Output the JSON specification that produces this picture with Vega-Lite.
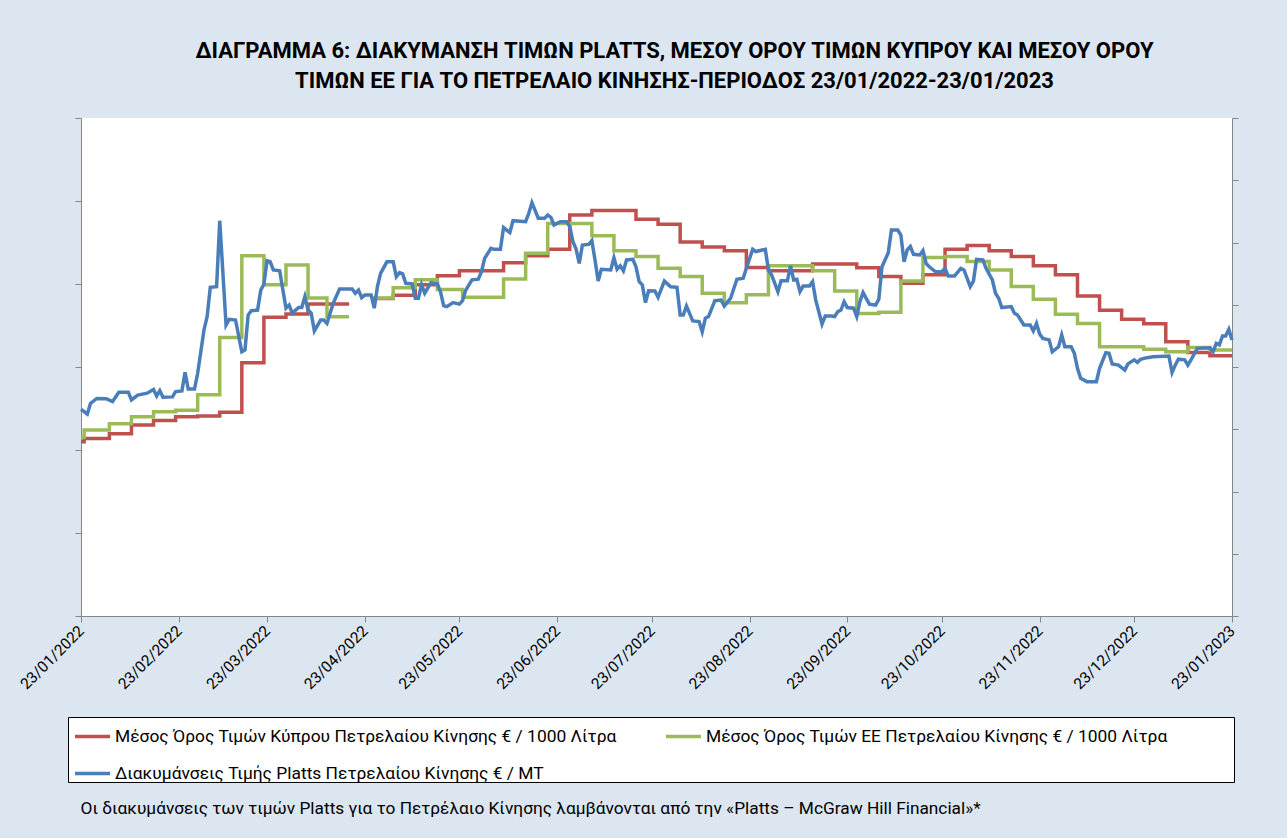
{
  "$schema": "https://vega.github.io/schema/vega-lite/v6.json",
  "width": 1151,
  "height": 498,
  "autosize": {"type": "none"},
  "padding": {"left": 81, "top": 118, "right": 55, "bottom": 222},
  "background": "#DCE6F1",
  "config": {
    "view": {"fill": "white", "stroke": null},
    "font": "Roboto"
  },
  "title": {
    "text": ["ΔΙΑΓΡΑΜΜΑ 6: ΔΙΑΚΥΜΑΝΣΗ ΤΙΜΩΝ PLATTS, ΜΕΣΟΥ ΟΡΟΥ ΤΙΜΩΝ ΚΥΠΡΟΥ ΚΑΙ ΜΕΣΟΥ ΟΡΟΥ", "ΤΙΜΩΝ ΕΕ ΓΙΑ ΤΟ ΠΕΤΡΕΛΑΙΟ ΚΙΝΗΣΗΣ-ΠΕΡΙΟΔΟΣ 23/01/2022-23/01/2023"],
    "font": "Roboto",
    "fontSize": 22,
    "fontWeight": "bold",
    "color": "black",
    "anchor": "middle",
    "dx": 18,
    "offset": 25,
    "lineHeight": 30
  },
  "data": {"values": [
    {"d":"2022-01-23","s":"PL","v":664},{"d":"2022-01-25","s":"PL","v":649},{"d":"2022-01-26","s":"PL","v":683},{"d":"2022-01-28","s":"PL","v":699},{"d":"2022-01-31","s":"PL","v":698},
    {"d":"2022-02-02","s":"PL","v":689},{"d":"2022-02-04","s":"PL","v":719},{"d":"2022-02-07","s":"PL","v":719},{"d":"2022-02-08","s":"PL","v":694},{"d":"2022-02-10","s":"PL","v":710},
    {"d":"2022-02-13","s":"PL","v":716},{"d":"2022-02-15","s":"PL","v":728},{"d":"2022-02-16","s":"PL","v":707},{"d":"2022-02-17","s":"PL","v":724},{"d":"2022-02-18","s":"PL","v":703},
    {"d":"2022-02-21","s":"PL","v":704},{"d":"2022-02-22","s":"PL","v":721},{"d":"2022-02-24","s":"PL","v":723},{"d":"2022-02-25","s":"PL","v":783},{"d":"2022-02-26","s":"PL","v":729},
    {"d":"2022-02-28","s":"PL","v":729},{"d":"2022-03-01","s":"PL","v":780},{"d":"2022-03-03","s":"PL","v":919},{"d":"2022-03-04","s":"PL","v":962},{"d":"2022-03-05","s":"PL","v":1056},
    {"d":"2022-03-07","s":"PL","v":1058},{"d":"2022-03-08","s":"PL","v":1270},{"d":"2022-03-10","s":"PL","v":935},{"d":"2022-03-11","s":"PL","v":953},{"d":"2022-03-13","s":"PL","v":951},
    {"d":"2022-03-15","s":"PL","v":849},{"d":"2022-03-16","s":"PL","v":855},{"d":"2022-03-17","s":"PL","v":967},{"d":"2022-03-18","s":"PL","v":981},{"d":"2022-03-20","s":"PL","v":983},
    {"d":"2022-03-21","s":"PL","v":1047},{"d":"2022-03-22","s":"PL","v":1066},{"d":"2022-03-23","s":"PL","v":1141},{"d":"2022-03-24","s":"PL","v":1138},{"d":"2022-03-25","s":"PL","v":1112},
    {"d":"2022-03-27","s":"PL","v":1109},{"d":"2022-03-29","s":"PL","v":989},{"d":"2022-03-30","s":"PL","v":999},{"d":"2022-03-31","s":"PL","v":973},{"d":"2022-04-02","s":"PL","v":991},
    {"d":"2022-04-03","s":"PL","v":991},{"d":"2022-04-04","s":"PL","v":1026},{"d":"2022-04-05","s":"PL","v":983},{"d":"2022-04-06","s":"PL","v":973},{"d":"2022-04-07","s":"PL","v":916},
    {"d":"2022-04-09","s":"PL","v":951},{"d":"2022-04-10","s":"PL","v":951},{"d":"2022-04-11","s":"PL","v":940},{"d":"2022-04-13","s":"PL","v":1005},{"d":"2022-04-15","s":"PL","v":1051},
    {"d":"2022-04-19","s":"PL","v":1051},{"d":"2022-04-20","s":"PL","v":1037},{"d":"2022-04-21","s":"PL","v":1047},{"d":"2022-04-22","s":"PL","v":1023},{"d":"2022-04-23","s":"PL","v":1031},
    {"d":"2022-04-25","s":"PL","v":1031},{"d":"2022-04-26","s":"PL","v":989},{"d":"2022-04-27","s":"PL","v":1058},{"d":"2022-04-28","s":"PL","v":1101},{"d":"2022-04-30","s":"PL","v":1138},
    {"d":"2022-05-02","s":"PL","v":1138},{"d":"2022-05-03","s":"PL","v":1090},{"d":"2022-05-04","s":"PL","v":1103},{"d":"2022-05-05","s":"PL","v":1099},{"d":"2022-05-06","s":"PL","v":1069},
    {"d":"2022-05-08","s":"PL","v":1067},{"d":"2022-05-09","s":"PL","v":1021},{"d":"2022-05-10","s":"PL","v":1021},{"d":"2022-05-11","s":"PL","v":1064},{"d":"2022-05-12","s":"PL","v":1037},
    {"d":"2022-05-14","s":"PL","v":1071},{"d":"2022-05-16","s":"PL","v":1067},{"d":"2022-05-17","s":"PL","v":1042},{"d":"2022-05-18","s":"PL","v":997},{"d":"2022-05-19","s":"PL","v":994},
    {"d":"2022-05-21","s":"PL","v":1007},{"d":"2022-05-23","s":"PL","v":1002},{"d":"2022-05-24","s":"PL","v":1013},{"d":"2022-05-25","s":"PL","v":1047},{"d":"2022-05-27","s":"PL","v":1080},
    {"d":"2022-05-29","s":"PL","v":1082},{"d":"2022-05-30","s":"PL","v":1106},{"d":"2022-05-31","s":"PL","v":1149},{"d":"2022-06-02","s":"PL","v":1181},{"d":"2022-06-03","s":"PL","v":1178},
    {"d":"2022-06-05","s":"PL","v":1178},{"d":"2022-06-06","s":"PL","v":1248},{"d":"2022-06-08","s":"PL","v":1232},{"d":"2022-06-09","s":"PL","v":1270},{"d":"2022-06-13","s":"PL","v":1267},
    {"d":"2022-06-14","s":"PL","v":1294},{"d":"2022-06-15","s":"PL","v":1328},{"d":"2022-06-17","s":"PL","v":1278},{"d":"2022-06-19","s":"PL","v":1278},{"d":"2022-06-20","s":"PL","v":1288},
    {"d":"2022-06-21","s":"PL","v":1281},{"d":"2022-06-22","s":"PL","v":1256},{"d":"2022-06-24","s":"PL","v":1267},{"d":"2022-06-26","s":"PL","v":1267},{"d":"2022-06-27","s":"PL","v":1251},
    {"d":"2022-06-28","s":"PL","v":1203},{"d":"2022-06-29","s":"PL","v":1179},{"d":"2022-06-30","s":"PL","v":1133},{"d":"2022-07-01","s":"PL","v":1192},{"d":"2022-07-03","s":"PL","v":1194},
    {"d":"2022-07-04","s":"PL","v":1206},{"d":"2022-07-05","s":"PL","v":1144},{"d":"2022-07-06","s":"PL","v":1076},{"d":"2022-07-07","s":"PL","v":1114},{"d":"2022-07-10","s":"PL","v":1112},
    {"d":"2022-07-11","s":"PL","v":1151},{"d":"2022-07-12","s":"PL","v":1114},{"d":"2022-07-13","s":"PL","v":1125},{"d":"2022-07-14","s":"PL","v":1109},{"d":"2022-07-15","s":"PL","v":1144},
    {"d":"2022-07-17","s":"PL","v":1146},{"d":"2022-07-18","s":"PL","v":1122},{"d":"2022-07-19","s":"PL","v":1074},{"d":"2022-07-20","s":"PL","v":1064},{"d":"2022-07-21","s":"PL","v":1007},
    {"d":"2022-07-22","s":"PL","v":1045},{"d":"2022-07-24","s":"PL","v":1044},{"d":"2022-07-25","s":"PL","v":1024},{"d":"2022-07-27","s":"PL","v":1076},{"d":"2022-07-29","s":"PL","v":1058},
    {"d":"2022-07-31","s":"PL","v":1056},{"d":"2022-08-01","s":"PL","v":967},{"d":"2022-08-02","s":"PL","v":967},{"d":"2022-08-03","s":"PL","v":996},{"d":"2022-08-05","s":"PL","v":948},
    {"d":"2022-08-07","s":"PL","v":946},{"d":"2022-08-08","s":"PL","v":913},{"d":"2022-08-09","s":"PL","v":957},{"d":"2022-08-10","s":"PL","v":962},{"d":"2022-08-12","s":"PL","v":1013},
    {"d":"2022-08-14","s":"PL","v":1015},{"d":"2022-08-15","s":"PL","v":996},{"d":"2022-08-17","s":"PL","v":1021},{"d":"2022-08-19","s":"PL","v":1082},{"d":"2022-08-21","s":"PL","v":1085},
    {"d":"2022-08-22","s":"PL","v":1117},{"d":"2022-08-24","s":"PL","v":1178},{"d":"2022-08-25","s":"PL","v":1171},{"d":"2022-08-28","s":"PL","v":1178},{"d":"2022-08-29","s":"PL","v":1112},
    {"d":"2022-08-30","s":"PL","v":1096},{"d":"2022-09-01","s":"PL","v":1042},{"d":"2022-09-02","s":"PL","v":1077},{"d":"2022-09-04","s":"PL","v":1077},{"d":"2022-09-05","s":"PL","v":1125},
    {"d":"2022-09-06","s":"PL","v":1080},{"d":"2022-09-07","s":"PL","v":1082},{"d":"2022-09-08","s":"PL","v":1042},{"d":"2022-09-09","s":"PL","v":1060},{"d":"2022-09-11","s":"PL","v":1060},
    {"d":"2022-09-12","s":"PL","v":1074},{"d":"2022-09-13","s":"PL","v":1015},{"d":"2022-09-15","s":"PL","v":938},{"d":"2022-09-16","s":"PL","v":964},{"d":"2022-09-18","s":"PL","v":964},
    {"d":"2022-09-19","s":"PL","v":962},{"d":"2022-09-20","s":"PL","v":978},{"d":"2022-09-21","s":"PL","v":983},{"d":"2022-09-22","s":"PL","v":1010},{"d":"2022-09-23","s":"PL","v":991},
    {"d":"2022-09-25","s":"PL","v":989},{"d":"2022-09-26","s":"PL","v":962},{"d":"2022-09-27","s":"PL","v":1010},{"d":"2022-09-28","s":"PL","v":1039},{"d":"2022-09-30","s":"PL","v":1002},
    {"d":"2022-10-02","s":"PL","v":999},{"d":"2022-10-03","s":"PL","v":1018},{"d":"2022-10-04","s":"PL","v":1122},{"d":"2022-10-06","s":"PL","v":1167},{"d":"2022-10-07","s":"PL","v":1240},
    {"d":"2022-10-09","s":"PL","v":1240},{"d":"2022-10-10","s":"PL","v":1224},{"d":"2022-10-11","s":"PL","v":1138},{"d":"2022-10-12","s":"PL","v":1176},{"d":"2022-10-13","s":"PL","v":1187},
    {"d":"2022-10-14","s":"PL","v":1162},{"d":"2022-10-16","s":"PL","v":1160},{"d":"2022-10-17","s":"PL","v":1174},{"d":"2022-10-18","s":"PL","v":1133},{"d":"2022-10-19","s":"PL","v":1122},
    {"d":"2022-10-21","s":"PL","v":1106},{"d":"2022-10-23","s":"PL","v":1106},{"d":"2022-10-24","s":"PL","v":1117},{"d":"2022-10-25","s":"PL","v":1092},{"d":"2022-10-27","s":"PL","v":1092},
    {"d":"2022-10-29","s":"PL","v":1117},{"d":"2022-10-30","s":"PL","v":1112},{"d":"2022-11-01","s":"PL","v":1058},{"d":"2022-11-02","s":"PL","v":1076},{"d":"2022-11-03","s":"PL","v":1146},
    {"d":"2022-11-05","s":"PL","v":1144},{"d":"2022-11-06","s":"PL","v":1117},{"d":"2022-11-08","s":"PL","v":1080},{"d":"2022-11-09","s":"PL","v":1037},{"d":"2022-11-10","s":"PL","v":1021},
    {"d":"2022-11-11","s":"PL","v":991},{"d":"2022-11-14","s":"PL","v":994},{"d":"2022-11-15","s":"PL","v":973},{"d":"2022-11-16","s":"PL","v":967},{"d":"2022-11-18","s":"PL","v":935},
    {"d":"2022-11-20","s":"PL","v":935},{"d":"2022-11-21","s":"PL","v":916},{"d":"2022-11-22","s":"PL","v":940},{"d":"2022-11-23","s":"PL","v":906},{"d":"2022-11-24","s":"PL","v":892},
    {"d":"2022-11-26","s":"PL","v":887},{"d":"2022-11-27","s":"PL","v":849},{"d":"2022-11-29","s":"PL","v":865},{"d":"2022-11-30","s":"PL","v":903},{"d":"2022-12-01","s":"PL","v":865},
    {"d":"2022-12-03","s":"PL","v":865},{"d":"2022-12-04","s":"PL","v":844},{"d":"2022-12-05","s":"PL","v":796},{"d":"2022-12-06","s":"PL","v":764},{"d":"2022-12-08","s":"PL","v":753},
    {"d":"2022-12-11","s":"PL","v":753},{"d":"2022-12-12","s":"PL","v":796},{"d":"2022-12-14","s":"PL","v":846},{"d":"2022-12-15","s":"PL","v":844},{"d":"2022-12-16","s":"PL","v":810},
    {"d":"2022-12-18","s":"PL","v":806},{"d":"2022-12-20","s":"PL","v":790},{"d":"2022-12-21","s":"PL","v":810},{"d":"2022-12-23","s":"PL","v":823},{"d":"2022-12-24","s":"PL","v":815},
    {"d":"2022-12-25","s":"PL","v":825},{"d":"2022-12-27","s":"PL","v":830},{"d":"2022-12-29","s":"PL","v":833},{"d":"2023-01-03","s":"PL","v":835},{"d":"2023-01-04","s":"PL","v":782},
    {"d":"2023-01-05","s":"PL","v":806},{"d":"2023-01-06","s":"PL","v":825},{"d":"2023-01-08","s":"PL","v":823},{"d":"2023-01-09","s":"PL","v":806},{"d":"2023-01-10","s":"PL","v":823},
    {"d":"2023-01-12","s":"PL","v":860},{"d":"2023-01-16","s":"PL","v":862},{"d":"2023-01-17","s":"PL","v":849},{"d":"2023-01-18","s":"PL","v":876},{"d":"2023-01-19","s":"PL","v":871},
    {"d":"2023-01-20","s":"PL","v":900},{"d":"2023-01-21","s":"PL","v":900},{"d":"2023-01-22","s":"PL","v":921},{"d":"2023-01-23","s":"PL","v":887},

    {"d":"2022-01-23","s":"CY","v":1220},{"d":"2022-01-24","s":"CY","v":1228},{"d":"2022-02-01","s":"CY","v":1239},{"d":"2022-02-08","s":"CY","v":1260},{"d":"2022-02-15","s":"CY","v":1271},
    {"d":"2022-02-22","s":"CY","v":1280},{"d":"2022-03-01","s":"CY","v":1282},{"d":"2022-03-08","s":"CY","v":1291},{"d":"2022-03-15","s":"CY","v":1410},{"d":"2022-03-22","s":"CY","v":1520},
    {"d":"2022-03-29","s":"CY","v":1528},{"d":"2022-04-05","s":"CY","v":1552},{"d":"2022-04-18","s":"CY","v":1552},{"d":"2022-04-21","s":"CY","v":null},{"d":"2022-04-25","s":"CY","v":1565},
    {"d":"2022-05-02","s":"CY","v":1573},{"d":"2022-05-09","s":"CY","v":1598},{"d":"2022-05-16","s":"CY","v":1620},{"d":"2022-05-23","s":"CY","v":1632},{"d":"2022-06-06","s":"CY","v":1651},
    {"d":"2022-06-13","s":"CY","v":1668},{"d":"2022-06-20","s":"CY","v":1684},{"d":"2022-06-27","s":"CY","v":1766},{"d":"2022-07-04","s":"CY","v":1777},{"d":"2022-07-18","s":"CY","v":1756},
    {"d":"2022-07-25","s":"CY","v":1744},{"d":"2022-08-01","s":"CY","v":1701},{"d":"2022-08-08","s":"CY","v":1689},{"d":"2022-08-15","s":"CY","v":1680},{"d":"2022-08-22","s":"CY","v":1640},
    {"d":"2022-08-29","s":"CY","v":1632},{"d":"2022-09-12","s":"CY","v":1648},{"d":"2022-09-26","s":"CY","v":1639},{"d":"2022-10-03","s":"CY","v":1618},{"d":"2022-10-10","s":"CY","v":1602},
    {"d":"2022-10-17","s":"CY","v":1622},{"d":"2022-10-24","s":"CY","v":1684},{"d":"2022-10-31","s":"CY","v":1693},{"d":"2022-11-07","s":"CY","v":1680},{"d":"2022-11-14","s":"CY","v":1666},
    {"d":"2022-11-21","s":"CY","v":1644},{"d":"2022-11-28","s":"CY","v":1622},{"d":"2022-12-05","s":"CY","v":1571},{"d":"2022-12-12","s":"CY","v":1537},{"d":"2022-12-19","s":"CY","v":1515},
    {"d":"2022-12-26","s":"CY","v":1504},{"d":"2023-01-02","s":"CY","v":1461},{"d":"2023-01-09","s":"CY","v":1435},{"d":"2023-01-16","s":"CY","v":1427},{"d":"2023-01-23","s":"CY","v":1427},

    {"d":"2022-01-23","s":"EU","v":1231},{"d":"2022-01-24","s":"EU","v":1248},{"d":"2022-02-01","s":"EU","v":1263},{"d":"2022-02-08","s":"EU","v":1280},{"d":"2022-02-15","s":"EU","v":1292},
    {"d":"2022-02-22","s":"EU","v":1296},{"d":"2022-03-01","s":"EU","v":1333},{"d":"2022-03-08","s":"EU","v":1471},{"d":"2022-03-15","s":"EU","v":1668},{"d":"2022-03-22","s":"EU","v":1598},
    {"d":"2022-03-29","s":"EU","v":1646},{"d":"2022-04-05","s":"EU","v":1566},{"d":"2022-04-11","s":"EU","v":1521},{"d":"2022-04-18","s":"EU","v":1521},{"d":"2022-04-21","s":"EU","v":null},
    {"d":"2022-04-25","s":"EU","v":1566},{"d":"2022-05-02","s":"EU","v":1591},{"d":"2022-05-09","s":"EU","v":1610},{"d":"2022-05-16","s":"EU","v":1587},{"d":"2022-05-24","s":"EU","v":1568},
    {"d":"2022-06-06","s":"EU","v":1612},{"d":"2022-06-13","s":"EU","v":1674},{"d":"2022-06-20","s":"EU","v":1746},{"d":"2022-07-04","s":"EU","v":1716},{"d":"2022-07-11","s":"EU","v":1680},
    {"d":"2022-07-18","s":"EU","v":1666},{"d":"2022-07-25","s":"EU","v":1638},{"d":"2022-08-01","s":"EU","v":1618},{"d":"2022-08-08","s":"EU","v":1578},{"d":"2022-08-15","s":"EU","v":1555},
    {"d":"2022-08-22","s":"EU","v":1574},{"d":"2022-08-29","s":"EU","v":1644},{"d":"2022-09-12","s":"EU","v":1632},{"d":"2022-09-19","s":"EU","v":1583},{"d":"2022-09-26","s":"EU","v":1529},
    {"d":"2022-10-03","s":"EU","v":1532},{"d":"2022-10-10","s":"EU","v":1607},{"d":"2022-10-17","s":"EU","v":1664},{"d":"2022-10-24","s":"EU","v":1666},{"d":"2022-10-31","s":"EU","v":1654},
    {"d":"2022-11-07","s":"EU","v":1634},{"d":"2022-11-14","s":"EU","v":1594},{"d":"2022-11-21","s":"EU","v":1563},{"d":"2022-11-28","s":"EU","v":1527},{"d":"2022-12-05","s":"EU","v":1505},
    {"d":"2022-12-12","s":"EU","v":1449},{"d":"2022-12-26","s":"EU","v":1443},{"d":"2023-01-02","s":"EU","v":1437},{"d":"2023-01-09","s":"EU","v":1447},{"d":"2023-01-16","s":"EU","v":1441},
    {"d":"2023-01-23","s":"EU","v":1441}
  ]},
  "encoding": {
    "x": {
      "field": "d",
      "type": "temporal",
      "scale": {"type": "utc", "domain": [{"year": 2022, "month": 1, "date": 23, "utc": true}, {"year": 2023, "month": 1, "date": 23, "utc": true}]},
      "axis": {
        "values": [
          {"year": 2022, "month": 1, "date": 23, "utc": true},{"year": 2022, "month": 2, "date": 23, "utc": true},{"year": 2022, "month": 3, "date": 23, "utc": true},
          {"year": 2022, "month": 4, "date": 23, "utc": true},{"year": 2022, "month": 5, "date": 23, "utc": true},{"year": 2022, "month": 6, "date": 23, "utc": true},
          {"year": 2022, "month": 7, "date": 23, "utc": true},{"year": 2022, "month": 8, "date": 23, "utc": true},{"year": 2022, "month": 9, "date": 23, "utc": true},
          {"year": 2022, "month": 10, "date": 23, "utc": true},{"year": 2022, "month": 11, "date": 23, "utc": true},{"year": 2022, "month": 12, "date": 23, "utc": true},
          {"year": 2023, "month": 1, "date": 23, "utc": true}
        ],
        "labelExpr": "utcFormat(datum.value, '%d/%m/%Y')",
        "labelAngle": -45,
        "labelAlign": "right",
        "labelBaseline": "middle",
        "labelFontSize": 15.5,
        "labelFont": "Roboto",
        "labelColor": "black",
        "labelPadding": 6,
        "labelFlush": false,
        "labelOverlap": false,
        "tickSize": 6,
        "tickColor": "#868686",
        "domainColor": "#868686",
        "grid": false,
        "title": "Οι διακυμάνσεις των τιμών Platts για το Πετρέλαιο Κίνησης λαμβάνονται από την «Platts – McGraw Hill Financial»*",
        "titleAnchor": "start",
        "titleAlign": "left",
        "titleX": -1,
        "titleY": 197,
        "titleBaseline": "alphabetic",
        "titleFont": "Roboto",
        "titleFontSize": 17.3,
        "titleFontWeight": "normal",
        "titleColor": "black"
      }
    },
    "color": {
      "field": "s",
      "type": "nominal",
      "scale": {"domain": ["CY", "PL", "EU"], "range": ["#C0504D", "#4A7EBB", "#9BBB59"]},
      "legend": {
        "title": " ",
        "titleOrient": "right",
        "titlePadding": 62,
        "orient": "none",
        "legendX": -13,
        "legendY": 599,
        "columns": 2,
        "gridAlign": "all",
        "columnPadding": 38,
        "rowPadding": 9,
        "padding": 0,
        "symbolOffset": 5,
        "fillColor": "white",
        "strokeColor": "black",
        "symbolType": "stroke",
        "symbolSize": 1225,
        "symbolStrokeWidth": 3.5,
        "labelFont": "Roboto",
        "labelFontSize": 17.4,
        "labelColor": "black",
        "labelLimit": 0,
        "labelOffset": 3,
        "labelExpr": "datum.label == 'CY' ? 'Μέσος Όρος Τιμών Κύπρου Πετρελαίου Κίνησης  € / 1000 Λίτρα' : datum.label == 'EU' ? 'Μέσος Όρος Τιμών ΕΕ Πετρελαίου Κίνησης  € / 1000 Λίτρα' : 'Διακυμάνσεις Τιμής Platts Πετρελαίου Κίνησης € / MT'"
      }
    }
  },
  "layer": [
    {
      "encoding": {
        "y": {
          "field": "v",
          "type": "quantitative",
          "scale": {"domain": [800, 2000], "nice": false, "zero": false},
          "axis": {"orient": "left", "values": [800, 1000, 1200, 1400, 1600, 1800, 2000], "labels": false, "title": null, "tickSize": 6, "tickColor": "#868686", "domainColor": "#868686", "grid": false}
        }
      },
      "layer": [
        {
          "transform": [{"filter": "datum.s == 'CY'"}],
          "mark": {"type": "line", "interpolate": "step-after", "strokeWidth": 3.5, "invalid": "break-paths-show-domains"}
        },
        {
          "transform": [{"filter": "datum.s == 'EU'"}],
          "mark": {"type": "line", "interpolate": "step-after", "strokeWidth": 3.5, "invalid": "break-paths-show-domains"}
        }
      ]
    },
    {
      "transform": [{"filter": "datum.s == 'PL'"}],
      "mark": {"type": "line", "strokeWidth": 3.5},
      "encoding": {
        "y": {
          "field": "v",
          "type": "quantitative",
          "scale": {"domain": [0, 1600], "nice": false, "zero": false},
          "axis": {"orient": "right", "values": [0, 200, 400, 600, 800, 1000, 1200, 1400, 1600], "labels": false, "title": null, "tickSize": 6, "tickColor": "#868686", "domainColor": "#868686", "grid": false}
        }
      }
    }
  ],
  "resolve": {"scale": {"y": "independent"}}
}
